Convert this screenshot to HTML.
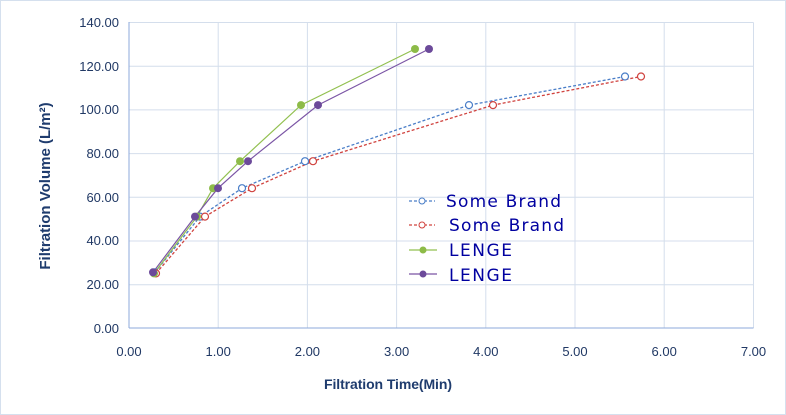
<!DOCTYPE html>
<html><head><meta charset="utf-8"><style>
html,body{margin:0;padding:0;background:#fff;}
svg{display:block;font-family:"Liberation Sans",sans-serif;}
</style></head><body>
<svg width="786" height="415" viewBox="0 0 786 415" xmlns="http://www.w3.org/2000/svg">
<rect x="0.5" y="0.5" width="785" height="414" fill="#fff" stroke="#d5e0ee"/>
<g stroke="#d4deec" stroke-width="1">
<line x1="129" y1="22.5" x2="753.5" y2="22.5"/>
<line x1="129" y1="66.2" x2="753.5" y2="66.2"/>
<line x1="129" y1="109.9" x2="753.5" y2="109.9"/>
<line x1="129" y1="153.6" x2="753.5" y2="153.6"/>
<line x1="129" y1="197.3" x2="753.5" y2="197.3"/>
<line x1="129" y1="241" x2="753.5" y2="241"/>
<line x1="129" y1="284.7" x2="753.5" y2="284.7"/>
<line x1="218.2" y1="22.5" x2="218.2" y2="328"/>
<line x1="307.4" y1="22.5" x2="307.4" y2="328"/>
<line x1="396.6" y1="22.5" x2="396.6" y2="328"/>
<line x1="485.8" y1="22.5" x2="485.8" y2="328"/>
<line x1="575" y1="22.5" x2="575" y2="328"/>
<line x1="664.2" y1="22.5" x2="664.2" y2="328"/>
<line x1="753.5" y1="22.5" x2="753.5" y2="328"/>
</g>
<line x1="129" y1="22" x2="129" y2="328" stroke="#8eaadb"/>
<line x1="129" y1="328" x2="753.5" y2="328" stroke="#8eaadb"/>
<g fill="#203864" font-size="13" text-anchor="end">
<text x="119" y="27">140.00</text><text x="119" y="71">120.00</text><text x="119" y="114">100.00</text>
<text x="119" y="158">80.00</text><text x="119" y="202">60.00</text><text x="119" y="245">40.00</text>
<text x="119" y="289">20.00</text><text x="119" y="333">0.00</text>
</g>
<g fill="#203864" font-size="13" text-anchor="middle">
<text x="129" y="356">0.00</text><text x="218.2" y="356">1.00</text><text x="307.4" y="356">2.00</text>
<text x="396.6" y="356">3.00</text><text x="485.8" y="356">4.00</text><text x="575" y="356">5.00</text>
<text x="664.2" y="356">6.00</text><text x="753.5" y="356">7.00</text>
</g>
<text x="388" y="389" fill="#1f3c6e" font-size="14" font-weight="bold" text-anchor="middle" textLength="128">Filtration Time(Min)</text>
<text transform="translate(50,186) rotate(-90)" fill="#1f3c6e" font-size="15" font-weight="bold" text-anchor="middle">Filtration Volume (L/m²)</text>

<polyline fill="none" stroke="#4a7ec8" stroke-width="1.3" stroke-dasharray="3,2" points="155,272.3 200,216.6 242,188.2 305,161.2 469,105.1 625,76.5"/>
<polyline fill="none" stroke="#d0433f" stroke-width="1.3" stroke-dasharray="3,2" points="156,273.4 205,216.6 252,188.2 313,161.2 493,105.1 641,76.5"/>
<polyline fill="none" stroke="#92c050" stroke-width="1.2" points="154,273.4 197,216.6 213,188.2 240,161.2 301,105.1 415,49"/>
<polyline fill="none" stroke="#7b55a5" stroke-width="1.2" points="153,272.3 195,216.6 218,188.2 248,161.2 318,105.1 429,49"/>
<g fill="#fff" stroke="#4a7ec8" stroke-width="1.2">
<circle cx="155" cy="272.3" r="3.5"/><circle cx="200" cy="216.6" r="3.5"/><circle cx="242" cy="188.2" r="3.5"/><circle cx="305" cy="161.2" r="3.5"/><circle cx="469" cy="105.1" r="3.5"/><circle cx="625" cy="76.5" r="3.5"/>
</g>
<g fill="#fff" stroke="#d0433f" stroke-width="1.2">
<circle cx="156" cy="273.4" r="3.5"/><circle cx="205" cy="216.6" r="3.5"/><circle cx="252" cy="188.2" r="3.5"/><circle cx="313" cy="161.2" r="3.5"/><circle cx="493" cy="105.1" r="3.5"/><circle cx="641" cy="76.5" r="3.5"/>
</g>
<g fill="#8dbb48">
<circle cx="154" cy="273.4" r="4"/><circle cx="197" cy="216.6" r="4"/><circle cx="213" cy="188.2" r="4"/><circle cx="240" cy="161.2" r="4"/><circle cx="301" cy="105.1" r="4"/><circle cx="415" cy="49" r="4"/>
</g>
<g fill="#6c4a9a">
<circle cx="153" cy="272.3" r="4"/><circle cx="195" cy="216.6" r="4"/><circle cx="218" cy="188.2" r="4"/><circle cx="248" cy="161.2" r="4"/><circle cx="318" cy="105.1" r="4"/><circle cx="429" cy="49" r="4"/>
</g>

<line x1="409" y1="201" x2="435" y2="201" stroke="#4a7ec8" stroke-width="1.2" stroke-dasharray="3,2"/>
<circle cx="422" cy="201" r="3" fill="#fff" stroke="#4a7ec8"/>
<line x1="409" y1="225" x2="435" y2="225" stroke="#d0433f" stroke-width="1.2" stroke-dasharray="3,2"/>
<circle cx="422" cy="225" r="3" fill="#fff" stroke="#d0433f"/>
<line x1="409" y1="250" x2="437" y2="250" stroke="#92c050" stroke-width="1.2"/>
<circle cx="423" cy="250" r="3.5" fill="#8dbb48"/>
<line x1="409" y1="274" x2="437" y2="274" stroke="#7b55a5" stroke-width="1.2"/>
<circle cx="423" cy="274" r="3.5" fill="#6c4a9a"/>
<g fill="#0000a0" font-size="17" font-family="DejaVu Sans, sans-serif">
<text x="446" y="207" textLength="115">Some Brand</text>
<text x="449" y="231" textLength="115">Some Brand</text>
<text x="449" y="256" textLength="63">LENGE</text>
<text x="449" y="281" textLength="63">LENGE</text>
</g>
</svg>
</body></html>
